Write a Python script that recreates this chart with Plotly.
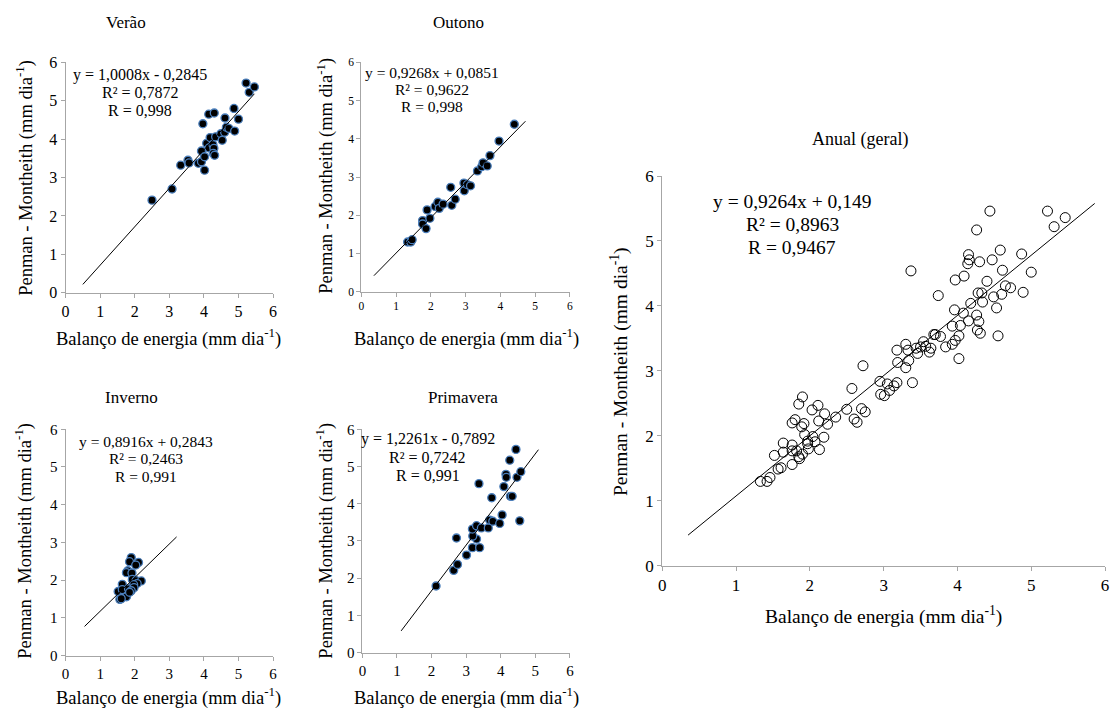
import plotly.graph_objects as go

W, H = 1116, 708
FONT = "Liberation Serif, Times New Roman, serif"

# ---------------- data ----------------
verao_x = [2.50, 3.08, 3.33, 3.54, 3.57, 3.84, 3.93, 3.93, 4.02, 4.02, 3.97, 4.14, 4.30, 4.08, 4.15, 4.18,
           4.26, 4.29, 4.27, 4.31, 4.34, 4.49, 4.53, 4.60, 4.61, 4.65, 4.72, 4.87, 4.89, 5.00, 5.22, 5.31, 5.46]
verao_y = [2.41, 2.70, 3.32, 3.45, 3.38, 3.37, 3.41, 3.69, 3.19, 3.54, 4.40, 4.65, 4.68, 3.89, 3.77, 4.04,
           3.86, 3.76, 3.63, 3.58, 4.06, 4.14, 3.97, 4.18, 4.55, 4.31, 4.28, 4.80, 4.21, 4.52, 5.46, 5.22, 5.36]

outono_x = [1.33, 1.42, 1.46, 1.76, 1.76, 1.86, 1.89, 1.97, 2.12, 2.20, 2.24, 2.35, 2.57, 2.60, 2.70, 2.95,
            2.96, 3.05, 3.14, 3.34, 3.46, 3.50, 3.62, 3.70, 3.96, 4.40]
outono_y = [1.30, 1.30, 1.36, 1.86, 1.77, 1.65, 2.14, 1.92, 2.23, 2.34, 2.18, 2.29, 2.73, 2.26, 2.42, 2.84,
            2.64, 2.80, 2.77, 3.16, 3.27, 3.37, 3.29, 3.56, 3.94, 4.38]

inverno_x = [1.90, 1.85, 2.11, 2.03, 1.80, 1.76, 1.92, 1.93, 1.64, 2.04, 2.19, 2.07, 1.97, 1.52, 1.64, 1.82,
             1.98, 1.90, 1.76, 1.57, 1.61, 1.85]
inverno_y = [2.60, 2.49, 2.47, 2.40, 2.25, 2.20, 2.19, 2.02, 1.89, 1.99, 1.98, 1.91, 1.88, 1.70, 1.75, 1.77,
             1.80, 1.72, 1.56, 1.49, 1.51, 1.68]

primavera_x = [2.13, 2.64, 2.75, 2.72, 3.01, 3.18, 3.39, 3.30, 3.19, 3.18, 3.30, 3.44, 3.64, 3.68, 3.77, 3.97,
               4.04, 3.74, 3.37, 4.09, 4.28, 4.33, 4.15, 4.16, 4.26, 4.44, 4.47, 4.58, 4.55]
primavera_y = [1.79, 2.21, 2.37, 3.08, 2.62, 2.82, 2.82, 3.05, 3.13, 3.32, 3.41, 3.35, 3.35, 3.56, 3.53, 3.47,
               3.70, 4.16, 4.54, 4.46, 4.20, 4.20, 4.79, 4.71, 5.17, 5.46, 4.71, 4.86, 3.54]

# annual = all seasons together
anual_x = verao_x + outono_x + inverno_x + primavera_x
anual_y = verao_y + outono_y + inverno_y + primavera_y

titles = ["Verão", "Outono", "Inverno", "Primavera", "Anual (geral)"]
slopes = [1.0008, 0.9268, 0.8916, 1.2261, 0.9264]
intercepts = [-0.2845, 0.0851, 0.2843, -0.7892, 0.149]
trend_x0 = [0.50, 0.36, 0.55, 1.12, 0.35]
trend_x1 = [5.46, 4.72, 3.21, 5.09, 5.86]
eq_lines = [
    ["y = 1,0008x - 0,2845", "R² = 0,7872", "R = 0,998"],
    ["y = 0,9268x + 0,0851", "R² = 0,9622", "R = 0,998"],
    ["y = 0,8916x + 0,2843", "R² = 0,2463", "R = 0,991"],
    ["y = 1,2261x - 0,7892", "R² = 0,7242", "R = 0,991"],
    ["y = 0,9264x + 0,149", "R² = 0,8963", "R = 0,9467"],
]
xlabel = "Balanço de energia (mm dia<sup>-1</sup>)"
ylabel = "Penman - Montheith (mm dia<sup>-1</sup>)"
tick_vals = [0, 1, 2, 3, 4, 5, 6]

# ---------------- layout geometry (target pixels) ----------------
boxes = [(62, 271, 62, 293), (360, 570, 62, 292), (62, 271, 430, 657), (361, 570, 430, 654), (663, 1109, 176, 567)]
tick_sizes = [16, 11.5, 15, 15, 17]
label_sizes = [18.5, 18.5, 18.5, 18.5, 19.5]
eq_sizes = [16, 15.5, 15.5, 16, 19.5]
title_pos = [(123, 22), (458, 22), (128, 398), (462, 398), (862, 139)]
title_sizes = [17, 17, 17, 17, 18]
xlab_pos = [(166, 338), (466, 338), (166, 698), (466, 698), (886, 617)]
ylab_pos = [(20, 178), (323, 176), (20, 542), (323, 542), (620, 372)]
eq_pos = [(137, [75, 92.5, 110]), (431, [72, 89.5, 106]), (143, [442, 459.5, 477]),
          (427, [440, 458, 476]), (794, [202, 225, 248])]

# the page capture maps a layout row y to about 0.976*y + 8.5; undo that
VS, VOFF = 0.976, 8.5

def px(x):
    return x / W

def py(y):
    return 1 - ((y - VOFF) / VS) / H

series = [(verao_x, verao_y), (outono_x, outono_y), (inverno_x, inverno_y),
          (primavera_x, primavera_y), (anual_x, anual_y)]

fig = go.Figure()
layout = dict(width=W, height=H, autosize=False, margin=dict(l=0, r=0, t=0, b=0, pad=0),
              paper_bgcolor="white", plot_bgcolor="white", showlegend=False,
              font=dict(family=FONT, color="black"))
annotations = []

def ann(text, x, y, size, angle=0):
    return dict(text=text, x=px(x), y=py(y), xref="paper", yref="paper", showarrow=False,
                xanchor="center", yanchor="middle", textangle=angle,
                font=dict(family=FONT, size=size, color="black"))

for i, ((sx, sy), box) in enumerate(zip(series, boxes)):
    n = "" if i == 0 else str(i + 1)
    xa, ya = "x" + n, "y" + n
    l, r, t, b = box
    axis_common = dict(range=[0, 6], tickvals=tick_vals, showgrid=False, zeroline=False,
                       showline=True, linecolor="#a6a6a6", linewidth=1, ticks="outside",
                       ticklen=4, tickcolor="#a6a6a6", tickwidth=1,
                       tickfont=dict(family=FONT, size=tick_sizes[i], color="black"))
    layout["xaxis" + n] = dict(domain=[px(l), px(r)], anchor=ya, **axis_common)
    layout["yaxis" + n] = dict(domain=[py(b), py(t)], anchor=xa, **axis_common)

    if i < 4:
        marker = dict(symbol="circle", size=8, color="black", line=dict(color="#4a7ebb", width=1.3))
    else:
        marker = dict(symbol="circle-open", size=10, color="black", line=dict(color="black", width=1))
    fig.add_trace(go.Scatter(x=sx, y=sy, mode="markers", marker=marker, xaxis=xa, yaxis=ya,
                             hoverinfo="x+y"))
    tx = [trend_x0[i], trend_x1[i]]
    ty = [slopes[i] * v + intercepts[i] for v in tx]
    fig.add_trace(go.Scatter(x=tx, y=ty, mode="lines", line=dict(color="black", width=1),
                             xaxis=xa, yaxis=ya, hoverinfo="skip"))

    annotations.append(ann(titles[i], *title_pos[i], title_sizes[i]))
    annotations.append(ann(xlabel, *xlab_pos[i], label_sizes[i]))
    annotations.append(ann(ylabel, *ylab_pos[i], label_sizes[i], angle=-90))
    ex, eys = eq_pos[i]
    for line, ey in zip(eq_lines[i], eys):
        annotations.append(ann(line, ex, ey, eq_sizes[i]))

layout["annotations"] = annotations
fig.update_layout(**layout)
fig.write_html("out.html", config={"displayModeBar": False},
               post_script="document.body.style.margin='0';document.body.style.overflow='hidden';")
